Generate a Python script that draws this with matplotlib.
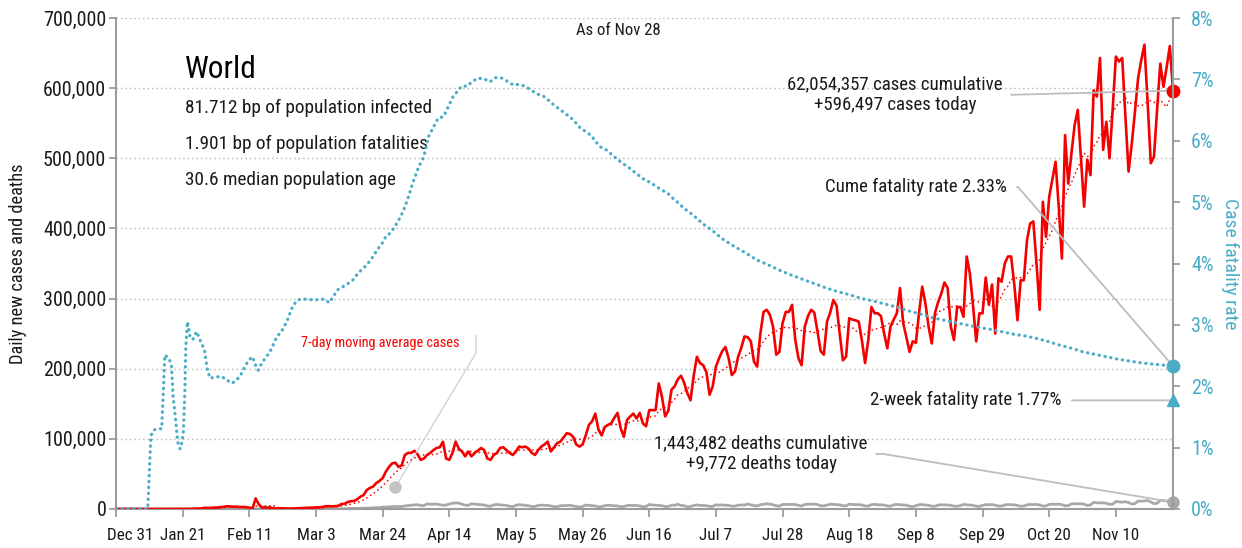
import matplotlib
matplotlib.use("Agg")
import matplotlib.pyplot as plt
from matplotlib import font_manager as fm
from matplotlib.transforms import ScaledTranslation
import numpy as np
import pandas as pd

# ---------------- data ----------------
start_date = "2019-12-31"

# daily new cases, thousands
cases_k_dec = [0.03]
cases_k_jan = [0, 0, 0, 0.02, 0, 0, 0, 0, 0, 0, 0, 0, 0, 0, 0, 0, 0.02, 0, 0.14, 0.02,
               0.15, 0.14, 0.1, 0.26, 0.46, 0.69, 0.77, 1.77, 1.46, 1.74, 1.98]
cases_k_feb = [2.1, 2.6, 3.2, 3.9, 3.7, 3.2, 3.4, 2.7, 3.0, 2.5, 2.0, 0.45, 15.2, 6.5, 2.1,
               2.2, 2.0, 1.9, 0.55, 0.6, 1.0, 1.0, 0.5, 0.6, 0.85, 0.95, 1.1, 1.4, 1.7]
cases_k_mar = [1.9, 1.9, 2.4, 2.3, 2.8, 3.9, 4.0, 3.8, 4.0, 4.5, 7.0, 7.5, 10, 11, 11.5,
               14, 17.5, 20, 27, 30, 32, 37, 40, 44, 53, 60, 65, 66, 60, 62, 77]
cases_k_apr = [80, 80, 83, 78, 70, 72, 77, 80, 84, 87, 88, 96, 72, 70, 80,
               96, 86, 82, 75, 82, 75, 80, 83, 87, 84, 72, 70, 77, 80, 87]
cases_k_may = [88, 84, 80, 77, 82, 89, 88, 89, 86, 80, 77, 84, 89, 92, 96, 82,
               88, 94, 96, 102, 108, 107, 103, 92, 89, 92, 105, 120, 125, 136, 113]
cases_k_jun = [105, 117, 120, 122, 130, 137, 115, 103, 127, 132, 136, 129, 137, 122, 118,
               141, 141, 141, 179, 160, 132, 140, 170, 175, 185, 190, 180, 165, 155, 190]
cases_k_jul = [217, 208, 205, 195, 163, 175, 203, 215, 225, 231, 215, 191, 196, 217, 230, 246,
               245, 239, 210, 203, 250, 281, 284, 277, 260, 220, 224, 265, 281, 281, 291]
cases_k_aug = [241, 215, 205, 260, 275, 284, 280, 253, 225, 220, 267, 280, 298, 290, 250, 212,
               217, 272, 270, 269, 267, 240, 208, 241, 288, 279, 279, 275, 250, 229, 260]
cases_k_sep = [270, 279, 315, 265, 245, 224, 239, 237, 280, 317, 293, 260, 236, 279, 295,
               307, 323, 315, 260, 241, 288, 288, 274, 360, 336, 290, 239, 279, 279, 330]
cases_k_oct = [291, 320, 250, 329, 324, 350, 360, 360, 320, 269, 326, 326, 383, 407, 410, 350,
               284, 438, 388, 445, 470, 495, 431, 357, 533, 464, 507, 547, 569, 500, 431]
cases_k_nov = [498, 476, 597, 588, 643, 512, 552, 500, 570, 645, 638, 643, 560, 481,
               520, 566, 614, 640, 662, 580, 493, 502, 570, 635, 602, 630, 660, 596.497]

# daily new deaths, thousands
deaths_k_dec = [0]
deaths_k_jan = [0, 0, 0, 0, 0, 0, 0, 0, 0, 0, 0.001, 0, 0, 0, 0, 0, 0, 0, 0, 0.003,
                0.003, 0.008, 0.001, 0.016, 0.015, 0.024, 0.026, 0.026, 0.038, 0.043, 0.046]
deaths_k_feb = [0.045, 0.057, 0.064, 0.066, 0.073, 0.073, 0.086, 0.089, 0.097, 0.108, 0.097,
                0.254, 0.121, 0.143, 0.142, 0.106, 0.098, 0.139, 0.115, 0.118, 0.109, 0.097,
                0.150, 0.071, 0.052, 0.029, 0.044, 0.037, 0.058]
deaths_k_mar = [0.068, 0.063, 0.086, 0.095, 0.105, 0.107, 0.108, 0.191, 0.21, 0.268, 0.348,
                0.452, 0.431, 0.638, 0.732, 0.846, 0.98, 1.1, 1.35, 1.46, 1.7, 1.9, 2.1, 2.6,
                2.8, 3.0, 3.5, 3.6, 3.4, 3.5, 4.4]
deaths_k_apr = [4.9, 5.3, 5.8, 6.1, 5.0, 4.8, 7.3, 6.8, 6.9, 7.0, 6.2, 5.3, 5.7, 7.0, 8.4,
                8.5, 8.4, 6.9, 5.4, 5.2, 7.5, 6.9, 6.5, 6.2, 5.8, 4.2, 3.9, 5.8, 6.5, 5.9]
deaths_k_may = [5.6, 5.1, 3.9, 3.5, 5.3, 6.2, 5.6, 5.3, 4.6, 3.5, 3.6, 5.1, 5.5, 5.2, 5.1, 4.3,
                3.3, 3.3, 4.6, 4.9, 4.9, 5.3, 4.3, 3.5, 2.5, 3.7, 5.6, 5.2, 4.9, 4.3, 3.1]
deaths_k_jun = [3.4, 4.7, 5.3, 5.0, 4.7, 4.3, 3.4, 3.6, 4.9, 5.2, 5.0, 5.0, 4.3, 3.3, 3.6,
                6.5, 5.7, 5.4, 5.1, 4.6, 3.6, 3.5, 5.5, 5.3, 6.7, 5.1, 4.7, 3.2, 3.6, 5.0]
deaths_k_jul = [5.9, 5.0, 5.1, 4.8, 3.6, 3.8, 5.9, 5.5, 5.8, 5.3, 5.2, 4.1, 4.1, 5.4, 5.7, 5.7,
                7.2, 5.8, 5.0, 4.4, 6.1, 6.6, 7.6, 6.8, 6.1, 4.6, 4.1, 6.4, 6.6, 6.3, 6.5]
deaths_k_aug = [6.3, 5.2, 4.3, 6.5, 6.7, 7.0, 6.7, 6.4, 4.6, 4.5, 5.6, 6.8, 6.7, 6.1, 5.9, 4.7,
                4.5, 6.9, 6.4, 6.3, 6.1, 5.8, 4.3, 4.2, 6.2, 6.7, 6.0, 5.9, 5.6, 4.4, 4.0]
deaths_k_sep = [6.0, 6.4, 6.1, 5.8, 5.4, 3.9, 3.5, 4.6, 6.1, 6.3, 5.6, 5.4, 4.0, 3.9, 5.6,
                6.0, 5.8, 5.8, 5.2, 4.0, 3.8, 5.0, 6.5, 5.9, 5.7, 5.3, 4.0, 3.7, 5.2, 6.1]
deaths_k_oct = [6.2, 6.2, 5.5, 4.2, 4.1, 5.8, 6.3, 6.1, 5.9, 5.1, 3.9, 4.3, 5.9, 6.4, 6.2, 6.5,
                5.7, 4.1, 4.4, 6.6, 6.9, 6.7, 6.9, 6.1, 4.6, 4.9, 7.2, 7.5, 7.3, 7.5, 6.9]
deaths_k_nov = [5.0, 5.8, 9.4, 9.0, 8.6, 8.8, 8.2, 6.6, 6.9, 10.7, 10.3, 9.8, 10.3, 9.2,
                7.1, 7.7, 11.3, 11.2, 11.4, 12.1, 10.1, 7.5, 8.3, 12.4, 12.1, 11.2, 11.4, 9.772]

# cumulative case fatality rate (%), read at day offsets from start_date
cfr_day = [0, 10, 11, 12, 14.4, 15.4, 16.8, 17.5, 18, 18.9, 19.4, 20.2, 20.7, 21.2, 21.7, 22,
           22.5, 22.8, 23.3, 24.2, 25.4, 26.5, 27, 28, 28.6, 29.6, 31.2, 33.3, 34.9, 36.6, 38,
           39.6, 40.6, 41.7, 43, 43.9, 44.8, 45.9, 46.9, 48.5, 49.5, 50.6, 52.2, 53.8, 54.8,
           55.8, 57.4, 59.3, 61.4, 63.5, 65.6, 67.2, 68.4, 69.8, 71.4, 73, 74.6, 75.8, 77.2,
           78.7, 80.3, 82.4, 84, 85, 86.3, 87.7, 88.9, 90, 91, 91.7, 92.4, 93.1, 93.9, 94.7,
           95.5, 96.6, 97.3, 98.4, 99.4, 100.5, 101.5, 103.1, 104.1, 105.2, 106.2, 107.5,
           108.9, 110.7, 112.3, 114.1, 115.9, 117.8, 119.7, 121.6, 123.6, 125.1, 127.2,
           129.1, 130.9, 132.7, 134.6, 136.5, 138, 139.8, 141.4, 143.2, 144.9, 146.4, 148,
           149.8, 151.2, 152.6, 154.5, 156.1, 157.9, 159.6, 161.4, 163.1, 164.8, 166.6,
           168.4, 170.3, 172.2, 173.9, 175.5, 177.3, 178.9, 180.8, 182.4, 184.2, 185.8,
           187.6, 190.8, 194.4, 198.1, 201.8, 205.4, 209.1, 212.8, 216.5, 220.2, 223.8,
           227.5, 231.2, 234.9, 238.5, 242.2, 245.9, 249.6, 253.2, 256.9, 260.6, 264.3,
           267.9, 271.6, 275.3, 279, 282.6, 286.3, 290, 293.6, 297.3, 301, 304.7, 308.3,
           312, 315.7, 319.4, 323.1, 326.7, 333]
cfr_pct = [0, 0, 1.2, 1.29, 1.31, 2.51, 2.44, 2.32, 1.83, 1.40, 1.10, 0.98, 1.07, 1.23, 1.94,
           2.64, 3.05, 2.97, 2.81, 2.76, 2.89, 2.75, 2.70, 2.56, 2.32, 2.13, 2.15, 2.16, 2.10,
           2.05, 2.10, 2.21, 2.32, 2.42, 2.48, 2.35, 2.26, 2.37, 2.45, 2.56, 2.67, 2.80, 2.90,
           3.05, 3.19, 3.32, 3.41, 3.42, 3.41, 3.41, 3.42, 3.36, 3.46, 3.57, 3.62, 3.67, 3.73,
           3.81, 3.89, 3.96, 4.06, 4.23, 4.34, 4.44, 4.49, 4.59, 4.69, 4.80, 4.92, 5.02, 5.13,
           5.25, 5.37, 5.48, 5.59, 5.70, 5.81, 6.06, 6.16, 6.27, 6.37, 6.39, 6.49, 6.61, 6.72,
           6.80, 6.89, 6.89, 6.97, 7.02, 7.01, 6.96, 7.03, 7.02, 6.96, 6.91, 6.92, 6.88, 6.82,
           6.76, 6.73, 6.65, 6.58, 6.51, 6.45, 6.38, 6.29, 6.20, 6.15, 6.08, 5.98, 5.90, 5.85,
           5.78, 5.70, 5.63, 5.57, 5.50, 5.43, 5.36, 5.32, 5.25, 5.19, 5.14, 5.06, 4.98, 4.90,
           4.83, 4.76, 4.68, 4.61, 4.55, 4.41, 4.29, 4.18, 4.06, 3.98, 3.89, 3.81, 3.74, 3.67,
           3.60, 3.54, 3.49, 3.43, 3.39, 3.34, 3.29, 3.23, 3.18, 3.12, 3.08, 3.04, 3.00, 2.96,
           2.93, 2.89, 2.85, 2.82, 2.78, 2.73, 2.67, 2.62, 2.56, 2.52, 2.48, 2.44, 2.41, 2.38,
           2.36, 2.33]
two_week_cfr = 1.77

x_tick_dates = ["2019-12-31", "2020-01-21", "2020-02-11", "2020-03-03", "2020-03-24",
                "2020-04-14", "2020-05-05", "2020-05-26", "2020-06-16", "2020-07-07",
                "2020-07-28", "2020-08-18", "2020-09-08", "2020-09-29", "2020-10-20",
                "2020-11-10"]
x_tick_labels = ["Dec 31", "Jan 21", "Feb 11", "Mar 3", "Mar 24", "Apr 14", "May 5",
                 "May 26", "Jun 16", "Jul 7", "Jul 28", "Aug 18", "Sep 8", "Sep 29",
                 "Oct 20", "Nov 10"]
left_ticks = [0, 100000, 200000, 300000, 400000, 500000, 600000, 700000]
right_ticks = [0, 1, 2, 3, 4, 5, 6, 7, 8]

title_text = "World"
info_lines = ["81.712 bp of population infected", "1.901 bp of population fatalities",
              "30.6 median population age"]
as_of_text = "As of Nov 28"
cases_note = "62,054,357 cases cumulative\n+596,497 cases today"
deaths_note = "1,443,482 deaths cumulative\n+9,772 deaths today"
cfr_note = "Cume fatality rate 2.33%"
two_week_note = "2-week fatality rate 1.77%"
ma_note = "7-day moving average cases"
ma_note_anchor = ("2020-03-28", 31000)

# ---------------- style ----------------
avail = {f.name for f in fm.fontManager.ttflist}
cands = ["Roboto Condensed", "Liberation Sans Narrow", "Archivo Narrow", "Liberation Sans"]
FONT = next((c for c in cands if c in avail), "DejaVu Sans")
plt.rcParams["font.family"] = [FONT, "DejaVu Sans"]

RED = "#f40000"
BLUE = "#4aacc7"
GRAY = "#a8a8a8"
AXC = "#9c9c9c"
TXT = "#1a1a1a"

# ---------------- build series ----------------
cases_k = (cases_k_dec + cases_k_jan + cases_k_feb + cases_k_mar + cases_k_apr + cases_k_may
           + cases_k_jun + cases_k_jul + cases_k_aug + cases_k_sep + cases_k_oct + cases_k_nov)
deaths_k = (deaths_k_dec + deaths_k_jan + deaths_k_feb + deaths_k_mar + deaths_k_apr
            + deaths_k_may + deaths_k_jun + deaths_k_jul + deaths_k_aug + deaths_k_sep
            + deaths_k_oct + deaths_k_nov)
cases = np.array(cases_k) * 1000
deaths = np.array(deaths_k) * 1000
dates = pd.date_range(start_date, periods=len(cases), freq="D")
ma7 = pd.Series(cases).rolling(7).mean().values
cfr_dates = pd.Timestamp(start_date) + pd.to_timedelta(cfr_day, unit="D")

# ---------------- figure ----------------
W, H = 1242, 548
fig = plt.figure(figsize=(W / 100, H / 100), dpi=100)
L, R, T, B = 116, 1173, 18, 509
ax = fig.add_axes([L / W, 1 - B / H, (R - L) / W, (B - T) / H])
ax2 = ax.twinx()

ax.set_xlim(dates[0], dates[-1])
ax.set_ylim(0, 700000)
ax2.set_ylim(0, 8)

ax.set_axisbelow(True)
ax.yaxis.grid(True, linestyle=(0, (1, 2.2)), color="#b4b4b4", lw=1.0)

ax.plot(dates, deaths, color=GRAY, lw=2.0, zorder=2)
ax.plot(dates, cases, color=RED, lw=1.9, zorder=3, solid_joinstyle="round")
ax.plot(dates, ma7, color=RED, lw=1.2, linestyle=(0, (0.1, 2.6)),
        dash_capstyle="round", zorder=4)
ax2.plot(cfr_dates, cfr_pct, color=BLUE, lw=2.3, linestyle=(0, (0.1, 1.75)),
         dash_capstyle="round", zorder=3)

# end markers
ax.plot(dates[-1], cases[-1], "o", color=RED, ms=9, clip_on=False, zorder=6)
ax.plot(dates[-1], deaths[-1], "o", color=GRAY, ms=8, clip_on=False, zorder=6)
ax2.plot(cfr_dates[-1], cfr_pct[-1], "o", color=BLUE, ms=9, clip_on=False, zorder=6)
ax2.plot(dates[-1], two_week_cfr, "^", color=BLUE, ms=9, clip_on=False, zorder=6)

# spines & ticks
for a in (ax, ax2):
    a.spines["top"].set_visible(False)
ax.spines["right"].set_visible(False)
ax2.spines["left"].set_visible(False)
ax2.spines["bottom"].set_visible(False)
for s in (ax.spines["left"], ax.spines["bottom"], ax2.spines["right"]):
    s.set_color(AXC)
    s.set_linewidth(1.5)

ax.set_yticks(left_ticks)
ax.set_yticklabels([f"{v:,}" for v in left_ticks])
ax2.set_yticks(right_ticks)
ax2.set_yticklabels([f"{v}%" for v in right_ticks])
ax.set_xticks(pd.to_datetime(x_tick_dates))
ax.set_xticklabels(x_tick_labels)

ax.tick_params(axis="y", length=5, width=1.3, color=AXC, labelsize=14.5, pad=2, labelcolor=TXT)
ax.tick_params(axis="x", length=6, width=1.3, color=AXC, labelsize=12.3, pad=8, labelcolor=TXT)
ax2.tick_params(axis="y", length=5, width=1.3, color=AXC, labelsize=14.5, pad=8, labelcolor=BLUE)

first = ax.get_xticklabels()[0]
first.set_ha("center")
first.set_transform(first.get_transform() + ScaledTranslation(14 / 100, 0, fig.dpi_scale_trans))

ax.set_ylabel("Daily new cases and deaths", fontsize=13.2, color=TXT)
ax.yaxis.set_label_coords(-(L - 18) / (R - L), 0.5)
ax.yaxis.label.set_va("center")
ax2.set_ylabel("Case fatality rate", fontsize=14, color=BLUE, rotation=270)
ax2.yaxis.set_label_coords(1 + (1230 - R) / (R - L), 0.5)
ax2.yaxis.label.set_va("center")
ax2.yaxis.label.set_ha("center")


def fx(px):
    return (px - L) / (R - L)


def fy(py):
    return (B - py) / (B - T)


# texts
ax.text(fx(185), fy(78), title_text, fontsize=22.5, color="black", ha="left", va="baseline",
        transform=ax.transAxes)
for i, line in enumerate(info_lines):
    ax.text(fx(185), fy(113 + 36 * i), line, fontsize=13.9, color=TXT, ha="left",
            va="baseline", transform=ax.transAxes)
ax.text(fx(618), fy(35), as_of_text, fontsize=12, color=TXT, ha="center", va="baseline",
        transform=ax.transAxes)

lead = dict(arrowstyle="-", color="#bdbdbd", lw=1.3, shrinkB=0)
NOTE = 13.6

ax.annotate(cases_note, xy=(dates[-1], cases[-1]), xytext=(fx(895), fy(95)),
            textcoords="axes fraction", ha="center", va="center", fontsize=NOTE, color=TXT,
            arrowprops=dict(lead, relpos=(1, 0.5), shrinkA=4))
ax2.annotate(cfr_note, xy=(cfr_dates[-1], cfr_pct[-1]), xytext=(fx(1007), fy(187)),
             textcoords="axes fraction", ha="right", va="center", fontsize=NOTE, color=TXT,
             arrowprops=dict(lead, relpos=(1, 0.5), shrinkA=5,
                             connectionstyle="arc,angleA=0,armA=11,angleB=0,armB=0,rad=0"))
ax2.annotate(two_week_note, xy=(dates[-1], two_week_cfr), xytext=(fx(1062), two_week_cfr),
             textcoords=("axes fraction", "data"), ha="right", va="center", fontsize=NOTE,
             color=TXT, arrowprops=dict(lead, relpos=(1, 0.5), shrinkA=5))
ax.annotate(deaths_note, xy=(dates[-1], deaths[-1]), xytext=(fx(761), fy(454)),
            textcoords="axes fraction", ha="center", va="center", fontsize=NOTE, color=TXT,
            arrowprops=dict(lead, relpos=(1, 0.5), shrinkA=4,
                            connectionstyle="arc,angleA=0,armA=16,angleB=0,armB=0,rad=0"))

ax.text(fx(380), fy(343), ma_note, fontsize=10.3, color=RED, ha="center", va="center",
        transform=ax.transAxes)
anchor = (pd.Timestamp(ma_note_anchor[0]), ma_note_anchor[1])
ax.annotate("", xy=anchor, xytext=(58, 109.5), textcoords="offset points",
            arrowprops=dict(arrowstyle="-", color="#cfcfcf", lw=0.9, shrinkA=0, shrinkB=0,
                            connectionstyle="arc,angleA=-90,armA=18,angleB=0,armB=0,rad=0"))
ax.plot(anchor[0], anchor[1], "o", color="#c2c2c2", ms=8, zorder=5)

fig.savefig("out.png", dpi=100)
